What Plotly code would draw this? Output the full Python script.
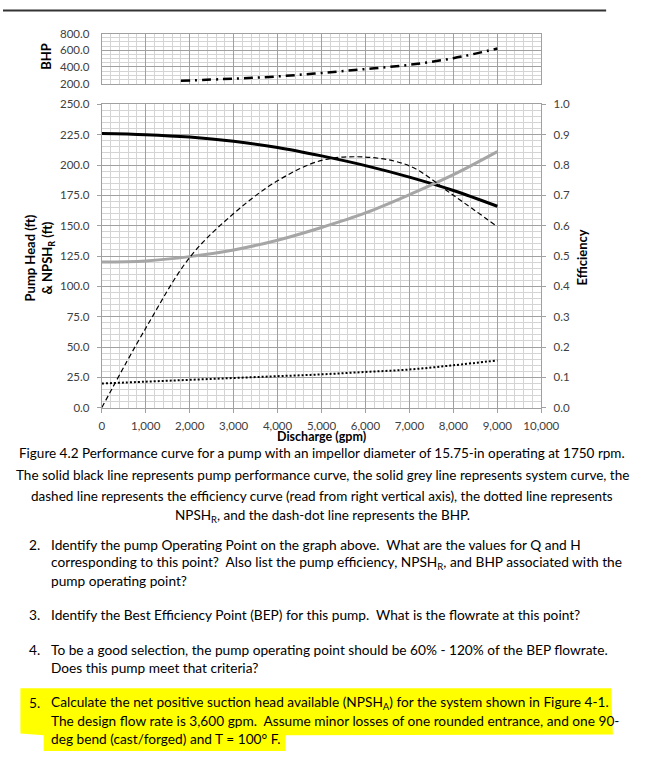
import plotly.graph_objects as go

# discharge (gpm) at which the curves were read
discharge = [0, 1000, 2000, 3000, 4000, 5000, 6000, 7000, 8000, 9000]
pump_head = [226, 225, 223, 219.5, 214.5, 207.5, 199.5, 190, 179, 166]
system_head = [120, 121, 124.5, 130, 138, 148.5, 160.5, 175.5, 192, 211]
efficiency = [0, 0.262, 0.495, 0.64, 0.748, 0.815, 0.826, 0.797, 0.70, 0.597]
npsh_r = [20, 21.5, 23, 24.5, 26, 27.5, 29.5, 31.5, 35, 39]

bhp_discharge = [1800, 3000, 4000, 5000, 6000, 7000, 8000, 9000]
bhp = [235, 260, 287, 328, 375, 426, 505, 620]

caption_lines = [
    "Figure 4.2 Performance curve for a pump with an impellor diameter of 15.75-in operating at 1750 rpm.",
    "The solid black line represents pump performance curve, the solid grey line represents system curve, the",
    "dashed line represents the efficiency curve (read from right vertical axis), the dotted line represents",
    "NPSH<sub>R</sub>, and the dash-dot line represents the BHP.",
]
questions = [
    ("2.", [
        "Identify the pump Operating Point on the graph above.  What are the values for Q and H",
        "corresponding to this point?  Also list the pump efficiency, NPSH<sub>R</sub>, and BHP associated with the",
        "pump operating point?",
    ]),
    ("3.", ["Identify the Best Efficiency Point (BEP) for this pump.  What is the flowrate at this point?"]),
    ("4.", [
        "To be a good selection, the pump operating point should be 60% - 120% of the BEP flowrate.",
        "Does this pump meet that criteria?",
    ]),
    ("5.", [
        "Calculate the net positive suction head available (NPSH<sub>A</sub>) for the system shown in Figure 4-1.",
        "The design flow rate is 3,600 gpm.  Assume minor losses of one rounded entrance, and one 90-",
        "deg bend (cast/forged) and T = 100\u00b0 F.",
    ]),
]

W, H = 659, 762
FONT = "Lato, Liberation Sans, sans-serif"
TICK = "#404040"
MAJOR = "#a0a0a0"
MINOR = "#d4d4d4"
TXT = 13.5
QTXT = 13.7


def px(x):
    return x / W


def py(y):
    return 1 - y / H


fig = go.Figure()
fig.add_trace(go.Scatter(x=discharge, y=pump_head, mode="lines", line_shape="spline",
                         line=dict(color="black", width=3), xaxis="x", yaxis="y"))
fig.add_trace(go.Scatter(x=discharge, y=system_head, mode="lines", line_shape="spline",
                         line=dict(color="#a6a6a6", width=3), xaxis="x", yaxis="y"))
fig.add_trace(go.Scatter(x=discharge, y=npsh_r, mode="lines", line_shape="spline",
                         line=dict(color="black", width=2, dash="2px,2px"), xaxis="x", yaxis="y"))
fig.add_trace(go.Scatter(x=discharge, y=efficiency, mode="lines", line_shape="spline",
                         line=dict(color="black", width=1.2, dash="5px,3px"), xaxis="x", yaxis="y3"))
fig.add_trace(go.Scatter(x=bhp_discharge, y=bhp, mode="lines", line_shape="spline",
                         line=dict(color="black", width=2.5, dash="9px,5px,2px,5px"), xaxis="x2", yaxis="y2"))

x_dom = [px(102), px(556)]
grid_x = dict(domain=x_dom, range=[0, 10000], dtick=1000, showgrid=True, gridcolor=MAJOR,
              gridwidth=1, zeroline=False, showline=True, linecolor=MAJOR, mirror=True,
              minor=dict(dtick=200, showgrid=True, gridcolor=MINOR, gridwidth=1))
tickfont = dict(family=FONT, size=11.5, color=TICK)

fig.update_layout(
    width=W, height=H, margin=dict(l=0, r=0, t=0, b=0),
    paper_bgcolor="white", plot_bgcolor="white", showlegend=False,
    font=dict(family=FONT, color=TICK, size=11.5),
    xaxis=dict(**grid_x, anchor="y", tickformat=",d", ticks="outside", ticklen=4,
               tickcolor=MAJOR, tickfont=tickfont, ticklabelstandoff=3),
    yaxis=dict(domain=[py(407.7), py(99)], range=[0, 250], dtick=25, tickformat=".1f",
               showgrid=True, gridcolor=MAJOR, zeroline=False, showline=True, linecolor=MAJOR,
               mirror=True, ticks="outside", ticklen=4, tickcolor=MAJOR,
               minor=dict(dtick=5, showgrid=True, gridcolor=MINOR),
               tickfont=tickfont, ticklabelstandoff=5),
    yaxis3=dict(overlaying="y", side="right", range=[0, 1], dtick=0.1, tickformat=".1f",
                showgrid=False, zeroline=False, ticks="outside", ticklen=4, tickcolor=MAJOR,
                tickfont=tickfont, anchor="x", ticklabelstandoff=5),
    xaxis2=dict(**grid_x, anchor="y2", showticklabels=False),
    yaxis2=dict(domain=[py(78), py(27)], range=[200, 800], dtick=200, tickformat=".1f",
                showgrid=True, gridcolor=MAJOR, zeroline=False, showline=True, linecolor=MAJOR,
                mirror=True, minor=dict(dtick=50, showgrid=True, gridcolor=MINOR),
                tickfont=tickfont, ticklabelstandoff=9),
)

shapes = [
    dict(type="line", xref="paper", yref="paper", x0=0, x1=px(623), y0=py(3.5), y1=py(3.5),
         line=dict(color="#333333", width=2)),
    dict(type="path", xref="paper", yref="paper", layer="below", fillcolor="#ffff00",
         line=dict(width=0),
         path=" ".join([
             f"M {px(18)},{py(693)}", f"L {px(628)},{py(693)}", f"L {px(630)},{py(740)}",
             f"L {px(292)},{py(741)}", f"L {px(292)},{py(757)}", f"L {px(42)},{py(757)}",
             f"L {px(42)},{py(741)}", f"L {px(18)},{py(739)}", "Z"])),
]
fig.update_layout(shapes=shapes)

ann = []


def label(text, x, y, size, bold=False, angle=0, xanchor="center", color="black"):
    ann.append(dict(text=f"<b>{text}</b>" if bold else text, x=px(x), y=py(y), xref="paper",
                    yref="paper", showarrow=False, xanchor=xanchor, yanchor="middle",
                    textangle=angle, font=dict(family=FONT, size=size, color=color)))


label("BHP", 45, 50, 13, bold=True, angle=-90)
label("Pump Head (ft)<br>& NPSH<sub>R</sub> (ft)", 38, 255, 13, bold=True, angle=-90)
label("Efficiency", 598, 255, 13, bold=True, angle=-90)
label("Discharge (gpm)", 329, 436.5, 12.5, bold=True)

for i, line in enumerate(caption_lines):
    label(line, 329.5, [453.5, 476, 497, 518][i], TXT)

rows = {"2.": [547, 565, 583], "3.": [618], "4.": [654, 672], "5.": [708, 726, 744]}
for num, lines in questions:
    ys = rows[num]
    label(num, 25, ys[0], QTXT, xanchor="left")
    for y, line in zip(ys, lines):
        label(line, 48, y, QTXT, xanchor="left")

fig.update_layout(annotations=ann)
# the page's default body margin would shift the figure by 8px
fig.write_html("out.html", config={"displayModeBar": False},
               post_script="document.body.style.margin = '0';")
